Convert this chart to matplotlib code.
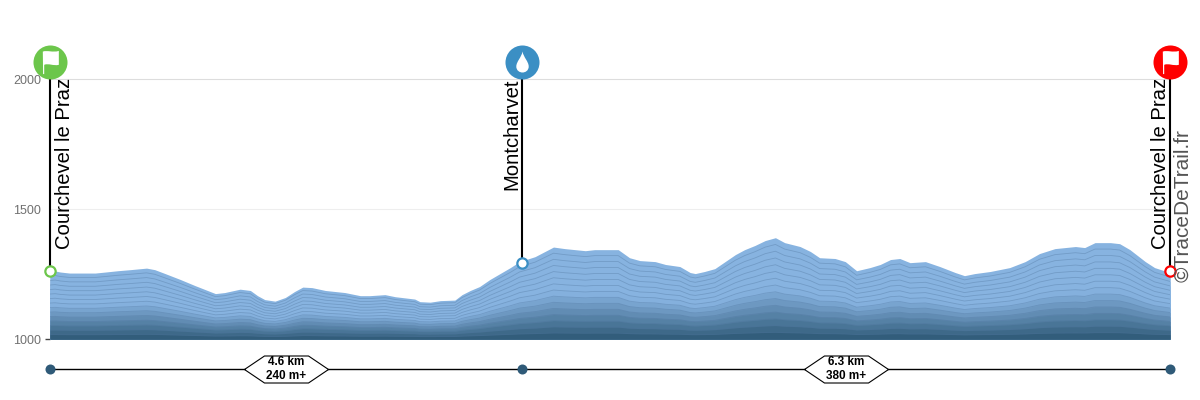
import matplotlib
matplotlib.use('Agg')
import matplotlib.pyplot as plt
import numpy as np
from matplotlib.path import Path

plt.rcParams['font.family'] = ['Liberation Sans', 'DejaVu Sans']

# Elevation profile
dist_km = [0.00, 0.05, 0.10, 0.19, 0.44, 0.54, 0.66, 0.78, 0.94, 1.02, 1.12, 1.27, 1.41, 1.61, 1.70,
           1.85, 1.95, 2.02, 2.09, 2.19, 2.29, 2.38, 2.46, 2.55, 2.68, 2.87, 3.02, 3.11, 3.26, 3.36,
           3.55, 3.60, 3.70, 3.80, 3.94, 4.01, 4.09, 4.18, 4.28, 4.38, 4.48, 4.57, 4.72, 4.90, 5.01,
           5.21, 5.30, 5.53, 5.64, 5.74, 5.89, 5.99, 6.13, 6.23, 6.28, 6.37, 6.47, 6.57, 6.67, 6.76,
           6.86, 6.96, 7.06, 7.15, 7.30, 7.40, 7.49, 7.64, 7.74, 7.85, 7.98, 8.08, 8.18, 8.27, 8.37,
           8.52, 8.66, 8.81, 8.90, 9.00, 9.15, 9.34, 9.49, 9.63, 9.78, 9.98, 10.07, 10.17, 10.32,
           10.41, 10.51, 10.66, 10.75, 10.90]
elevation = [1260, 1262, 1258, 1254, 1254, 1258, 1263, 1267, 1273, 1267, 1252, 1229, 1206, 1175, 1179,
             1192, 1187, 1167, 1152, 1146, 1160, 1183, 1200, 1198, 1187, 1179, 1167, 1167, 1171, 1163,
             1154, 1144, 1142, 1148, 1150, 1171, 1187, 1202, 1229, 1252, 1275, 1298, 1317, 1354, 1348,
             1340, 1344, 1344, 1313, 1302, 1298, 1287, 1279, 1256, 1252, 1260, 1271, 1298, 1325, 1344,
             1360, 1379, 1390, 1371, 1356, 1337, 1313, 1310, 1298, 1263, 1275, 1287, 1306, 1310, 1294,
             1298, 1279, 1256, 1244, 1252, 1260, 1275, 1298, 1329, 1348, 1356, 1352, 1371, 1371,
             1367, 1344, 1298, 1275, 1256]

# Waypoints
way_km = [0.0, 4.594, 10.9]
way_elev = [1263, 1294, 1263]
way_names = ['Courchevel le Praz', 'Montcharvet', 'Courchevel le Praz']
way_colors = ['#6cc64b', '#3b8fc4', '#ff0000']
label_dx = [15, -10, -10]  # px from the pole

# Sections
section_km = [2.30, 7.75]
section_labels = ['4.6 km\n240 m+', '6.3 km\n380 m+']

y_ticks = [1000, 1500, 2000]
grid_colors = ['#dddddd', '#eeeeee', '#dddddd']

ICON_Y = 2067
SECTION_Y = 885
N_BANDS = 15

fig = plt.figure(figsize=(12, 4), dpi=100)
ax = fig.add_axes([50 / 1200, 60.9 / 400, 1120 / 1200, 260 / 400])
ax.set_xlim(0, 10.9)
ax.set_ylim(1000, 2000)
for side in ax.spines.values():
    side.set_visible(False)
ax.set_xticks([])
ax.set_yticks(y_ticks)
ax.tick_params(axis='y', length=3.5, width=1, color='#444444', labelcolor='#707070',
               labelsize=9, pad=3)
# only the base has a tick mark
for tick in ax.yaxis.get_major_ticks()[1:]:
    tick.tick1line.set_visible(False)

for tick, col in zip(y_ticks[1:], grid_colors[1:]):
    ax.axhline(tick, color=col, lw=0.8, zorder=1, clip_on=False)

# Stacked bands, dark at the base and light towards the top
dist = np.array(dist_km)
elev = np.array(elevation)
light = np.array(matplotlib.colors.to_rgb('#87b3e0'))
dark = np.array(matplotlib.colors.to_rgb('#2f5a78'))
for i in range(N_BANDS, 0, -1):
    frac = i / N_BANDS
    mix = min(1.0, max(0.0, (frac - 0.05) / 0.5))
    col = dark + (light - dark) * mix
    top = 1000 + (elev - 1000) * frac
    ax.fill_between(dist, 1000, top, color=col, lw=0, zorder=2 + (N_BANDS - i) * 0.01)
    if i < N_BANDS:
        ax.plot(dist, top, color='#4a6f97', lw=0.6, alpha=0.35, zorder=2 + (N_BANDS - i) * 0.01)

# Icon shapes, y up, centred on the pin
C4 = Path.CURVE4
flag = Path([(-8.3, 11.8), (-3, 13.5), (2, 10.5), (9, 12.5), (9, -2.5), (3, -4), (-2, -0.5),
             (-6.8, -2.5), (-6.8, -12.5), (-8, -12.5), (-8.3, 11.8)],
            [Path.MOVETO, C4, C4, C4, Path.LINETO, C4, C4, C4, Path.LINETO, Path.LINETO, Path.LINETO])
drop = Path([(0, 11), (1, 5), (6.2, 1), (6.2, -4), (6.2, -8), (3, -10), (0, -10), (-3, -10),
             (-6.2, -8), (-6.2, -4), (-6.2, 1), (-1, 5), (0, 11),
             (-3.5, -7), (-3.5, -3), (-3, -1), (-1.5, 0.5), (-2, -3), (-2, -5), (-1, -7.5), (-3.5, -7)],
            [Path.MOVETO, C4, C4, C4, C4, C4, C4, C4, C4, C4, C4, C4, C4,
             Path.MOVETO, C4, C4, C4, C4, C4, C4, Path.CLOSEPOLY])
icons = [(flag, 324), (drop, 251), (flag, 324)]

for km, h, name, col, dx, (shape, size) in zip(way_km, way_elev, way_names, way_colors, label_dx, icons):
    ax.plot([km, km], [h, 2000], color='black', lw=1.5, zorder=5, clip_on=False)
    ax.scatter([km], [h], s=55, facecolor='white', edgecolor=col, linewidth=1.6, zorder=6, clip_on=False)
    ax.scatter([km], [ICON_Y], s=600, color=col, linewidth=0, zorder=7, clip_on=False)
    ax.scatter([km], [ICON_Y], s=size, marker=shape, color='white', linewidth=0, zorder=8, clip_on=False)
    ax.annotate(name, (km, 2000), xytext=(dx, 1), textcoords='offset pixels', rotation=90,
                ha='center', va='top', fontsize=14.6, color='black', zorder=9, annotation_clip=False)

ax.annotate('©TraceDeTrail.fr', (10.9, 1000), xytext=(13, 57), textcoords='offset pixels', rotation=90,
            ha='center', va='bottom', fontsize=15, color='#555555', zorder=9, annotation_clip=False)

# Section strip below the profile
ax.plot([0, 10.9], [SECTION_Y, SECTION_Y], color='black', lw=1, zorder=3, clip_on=False)
ax.scatter(way_km, [SECTION_Y] * 3, s=52, color='#2f5a78', linewidth=0, zorder=5, clip_on=False)
hexagon = Path([(-42, 0), (-22, 13.5), (22, 13.5), (42, 0), (22, -13.5), (-22, -13.5), (-42, 0)])
ax.scatter(section_km, [SECTION_Y] * 2, s=3660, marker=hexagon, facecolor='white', edgecolor='black',
           linewidth=0.8, zorder=4, clip_on=False)
for km, label in zip(section_km, section_labels):
    ax.text(km, SECTION_Y, label, ha='center', va='center', fontsize=8.5, fontweight='bold',
            linespacing=1.15, zorder=6, clip_on=False)

fig.savefig('out.png', dpi=100, facecolor='white')
plt.close()
